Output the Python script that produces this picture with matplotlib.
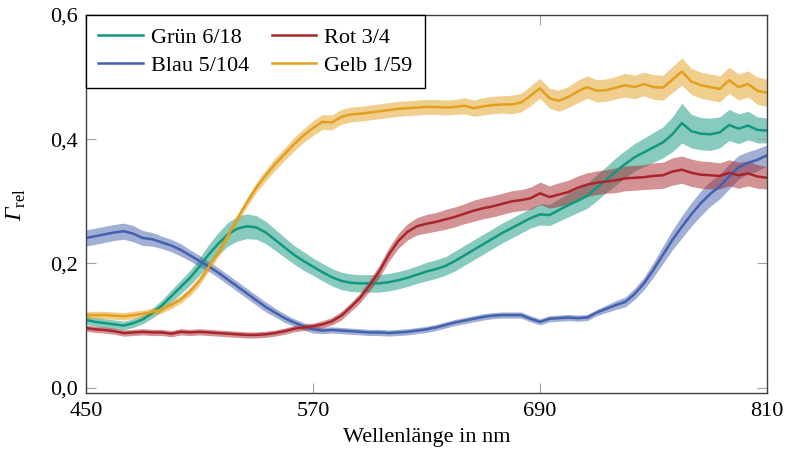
import matplotlib.pyplot as plt
import numpy as np
from matplotlib.ticker import FuncFormatter

plt.rcParams['font.family'] = ['Liberation Serif', 'DejaVu Serif']
# rm is italic here so that the capital Gamma comes out slanted; sf is upright for the subscript
plt.rcParams['mathtext.fontset'] = 'custom'
plt.rcParams['mathtext.rm'] = 'Liberation Serif:italic'
plt.rcParams['mathtext.sf'] = 'Liberation Serif'

# wavelength grid, 5 nm steps
wl = np.arange(450, 811, 5)

gruen = [0.109, 0.106, 0.104, 0.102, 0.100, 0.104, 0.110, 0.120, 0.132, 0.147,
         0.162, 0.177, 0.195, 0.215, 0.232, 0.247, 0.256, 0.260, 0.258, 0.250,
         0.238, 0.226, 0.214, 0.204, 0.195, 0.186, 0.178, 0.172, 0.169, 0.168,
         0.168, 0.168, 0.170, 0.173, 0.177, 0.182, 0.187, 0.191, 0.196, 0.204,
         0.213, 0.222, 0.231, 0.240, 0.249, 0.257, 0.265, 0.273, 0.279, 0.278,
         0.286, 0.294, 0.301, 0.309, 0.322, 0.335, 0.348, 0.360, 0.371, 0.379,
         0.387, 0.395, 0.408, 0.426, 0.413, 0.409, 0.408, 0.411, 0.423, 0.417,
         0.422, 0.415, 0.414]
gruen_err = [0.007, 0.007, 0.007, 0.007, 0.007, 0.007, 0.007, 0.008, 0.009, 0.010,
             0.011, 0.012, 0.014, 0.016, 0.018, 0.019, 0.020, 0.020, 0.019, 0.018,
             0.017, 0.016, 0.015, 0.015, 0.014, 0.014, 0.014, 0.014, 0.014, 0.014,
             0.014, 0.014, 0.014, 0.014, 0.014, 0.014, 0.015, 0.015, 0.015, 0.016,
             0.016, 0.016, 0.016, 0.016, 0.016, 0.016, 0.016, 0.016, 0.017, 0.017,
             0.018, 0.019, 0.019, 0.020, 0.021, 0.021, 0.022, 0.022, 0.022, 0.023,
             0.024, 0.025, 0.028, 0.032, 0.027, 0.026, 0.026, 0.025, 0.025, 0.024,
             0.023, 0.021, 0.020]

rot = [0.096, 0.094, 0.093, 0.091, 0.088, 0.089, 0.090, 0.089, 0.089, 0.087,
       0.090, 0.089, 0.090, 0.089, 0.088, 0.087, 0.086, 0.085, 0.085, 0.086,
       0.088, 0.091, 0.095, 0.097, 0.099, 0.102, 0.107, 0.116, 0.130, 0.145,
       0.165, 0.187, 0.214, 0.236, 0.251, 0.260, 0.264, 0.267, 0.271, 0.275,
       0.280, 0.285, 0.289, 0.292, 0.296, 0.300, 0.302, 0.305, 0.313, 0.307,
       0.311, 0.315, 0.322, 0.327, 0.330, 0.332, 0.334, 0.337, 0.338, 0.339,
       0.341, 0.342, 0.348, 0.351, 0.346, 0.343, 0.342, 0.341, 0.346, 0.342,
       0.345, 0.340, 0.338]
rot_err = [0.005, 0.005, 0.005, 0.005, 0.005, 0.005, 0.005, 0.005, 0.005, 0.005,
           0.005, 0.005, 0.005, 0.005, 0.005, 0.005, 0.005, 0.005, 0.005, 0.005,
           0.005, 0.005, 0.005, 0.005, 0.005, 0.006, 0.006, 0.007, 0.007, 0.008,
           0.009, 0.010, 0.011, 0.012, 0.013, 0.014, 0.015, 0.015, 0.016, 0.016,
           0.016, 0.017, 0.017, 0.017, 0.017, 0.017, 0.017, 0.018, 0.018, 0.018,
           0.019, 0.019, 0.019, 0.019, 0.019, 0.019, 0.020, 0.020, 0.020, 0.020,
           0.021, 0.021, 0.022, 0.022, 0.022, 0.022, 0.022, 0.021, 0.021, 0.021,
           0.020, 0.019, 0.018]

blau = [0.241, 0.244, 0.247, 0.250, 0.252, 0.248, 0.241, 0.239, 0.234, 0.229,
        0.222, 0.213, 0.204, 0.195, 0.185, 0.174, 0.163, 0.152, 0.141, 0.130,
        0.121, 0.112, 0.105, 0.099, 0.094, 0.092, 0.093, 0.092, 0.091, 0.090,
        0.089, 0.089, 0.088, 0.089, 0.090, 0.092, 0.094, 0.097, 0.101, 0.105,
        0.108, 0.111, 0.114, 0.116, 0.117, 0.117, 0.117, 0.111, 0.106, 0.111,
        0.112, 0.113, 0.112, 0.113, 0.121, 0.127, 0.133, 0.138, 0.151, 0.168,
        0.190, 0.214, 0.238, 0.259, 0.279, 0.297, 0.312, 0.324, 0.340, 0.355,
        0.362, 0.367, 0.374]
blau_err = [0.013, 0.013, 0.013, 0.013, 0.013, 0.013, 0.012, 0.011, 0.010, 0.010,
            0.010, 0.009, 0.009, 0.008, 0.008, 0.008, 0.008, 0.008, 0.008, 0.008,
            0.007, 0.007, 0.006, 0.006, 0.006, 0.005, 0.005, 0.005, 0.005, 0.005,
            0.005, 0.005, 0.005, 0.005, 0.005, 0.005, 0.005, 0.005, 0.005, 0.005,
            0.005, 0.005, 0.005, 0.005, 0.005, 0.005, 0.005, 0.005, 0.005, 0.005,
            0.005, 0.005, 0.005, 0.005, 0.005, 0.006, 0.007, 0.008, 0.009, 0.010,
            0.012, 0.014, 0.016, 0.018, 0.019, 0.020, 0.020, 0.020, 0.020, 0.019,
            0.018, 0.018, 0.017]

gelb = [0.117, 0.117, 0.117, 0.116, 0.115, 0.117, 0.119, 0.122, 0.126, 0.133,
        0.142, 0.155, 0.172, 0.195, 0.218, 0.245, 0.272, 0.298, 0.322, 0.342,
        0.360, 0.376, 0.392, 0.406, 0.418, 0.428, 0.427, 0.436, 0.440, 0.441,
        0.443, 0.445, 0.447, 0.449, 0.450, 0.451, 0.452, 0.452, 0.451, 0.452,
        0.454, 0.450, 0.453, 0.455, 0.456, 0.456, 0.459, 0.470, 0.482, 0.466,
        0.462, 0.468, 0.477, 0.484, 0.478, 0.479, 0.483, 0.487, 0.484, 0.489,
        0.484, 0.483, 0.496, 0.509, 0.493, 0.487, 0.484, 0.481, 0.495, 0.484,
        0.489, 0.478, 0.475]
gelb_err = [0.006, 0.006, 0.006, 0.006, 0.006, 0.006, 0.006, 0.006, 0.006, 0.006,
            0.006, 0.007, 0.007, 0.007, 0.007, 0.007, 0.007, 0.007, 0.008, 0.009,
            0.010, 0.010, 0.011, 0.011, 0.012, 0.012, 0.012, 0.012, 0.012, 0.012,
            0.012, 0.012, 0.012, 0.012, 0.012, 0.012, 0.012, 0.012, 0.012, 0.012,
            0.013, 0.013, 0.014, 0.014, 0.014, 0.015, 0.015, 0.016, 0.016, 0.016,
            0.017, 0.017, 0.018, 0.018, 0.018, 0.018, 0.018, 0.019, 0.019, 0.019,
            0.020, 0.020, 0.021, 0.022, 0.021, 0.021, 0.021, 0.021, 0.021, 0.021,
            0.021, 0.022, 0.022]

series = [
    ("Grün 6/18", gruen, gruen_err, "#12987f"),
    ("Blau 5/104", blau, blau_err, "#4461ad"),
    ("Rot 3/4", rot, rot_err, "#a8262b"),
    ("Gelb 1/59", gelb, gelb_err, "#e39f1e"),
]

fig = plt.figure(figsize=(7.86, 4.59), dpi=100)
ax = fig.add_axes([0.1094, 0.1431, 0.8664, 0.8242])

for label, y, err, col in series:
    y = np.array(y)
    err = np.array(err)
    ax.fill_between(wl, y - err, y + err, color=col, alpha=0.5, lw=0)
    ax.plot(wl, y, color=col, lw=1.8, label=label)

ax.set_xlim(450, 810)
ax.set_ylim(-0.009, 0.6)
ax.set_xticks([450, 570, 690, 810])
ax.set_yticks([0.0, 0.2, 0.4, 0.6])
ax.yaxis.set_major_formatter(FuncFormatter(lambda v, p: f"{v:.1f}".replace(".", ",")))
ax.tick_params(direction="in", length=7.5, width=0.8, color="#a0a0a0",
               top=True, right=True, labelsize=16, pad=6)
for s in ax.spines.values():
    s.set_color("#404040")
    s.set_linewidth(1.0)

ax.set_xlabel("Wellenlänge in nm", fontsize=16, labelpad=5)
ax.set_ylabel(r"$\Gamma_{\mathsf{rel}}$", fontsize=17)
ax.yaxis.set_label_coords(-0.085, 0.5)

leg = ax.legend(loc="upper left", ncol=2, fontsize=16, borderaxespad=0,
                frameon=True, fancybox=False, edgecolor="black",
                handlelength=2.0, handletextpad=0.38, columnspacing=1.0,
                borderpad=0.55, labelspacing=0.35)
leg.get_frame().set_linewidth(1.0)
leg.get_frame().set_alpha(1)

fig.savefig("out.png", dpi=100)
